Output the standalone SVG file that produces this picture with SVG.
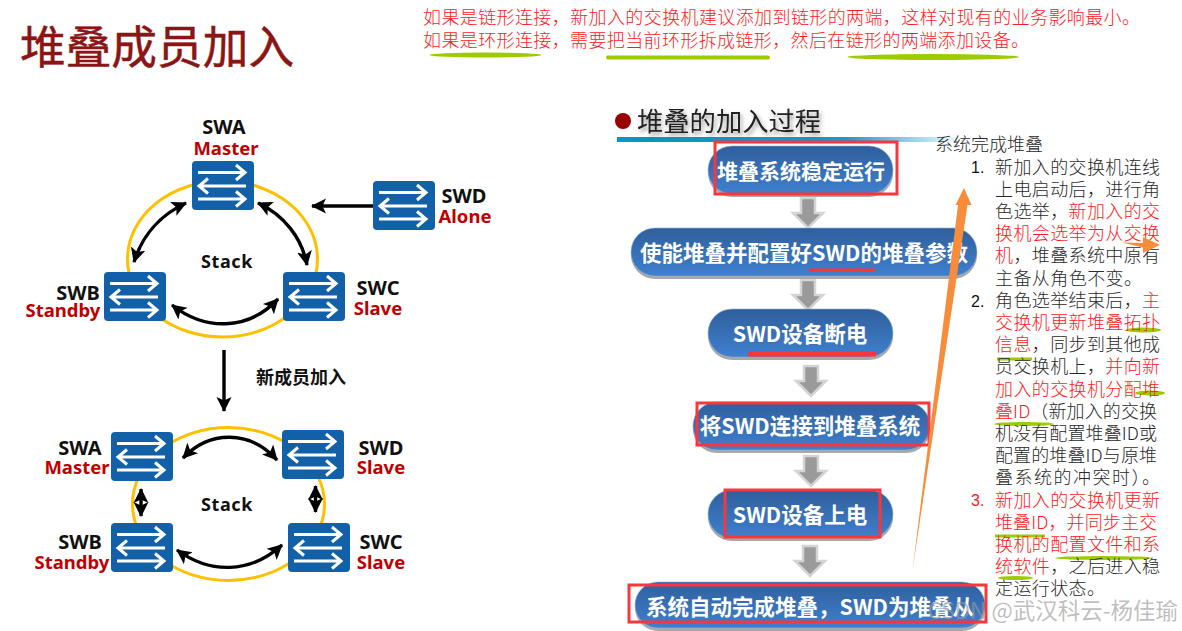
<svg xmlns="http://www.w3.org/2000/svg" xmlns:xlink="http://www.w3.org/1999/xlink" width="1182" height="631" viewBox="0 0 1182 631">
<style>
text{font-family:"Noto Sans","Noto Sans CJK SC",sans-serif}
.cjk{font-family:"Noto Sans CJK SC","Noto Sans",sans-serif}
.name{font-size:20px;font-weight:700;fill:#111;text-anchor:middle}
.stk{font-size:18px;font-weight:700;fill:#111;text-anchor:middle}
.role{font-size:18.500px;font-weight:700;fill:#C00000;text-anchor:middle}
.ring{fill:none;stroke:#FFC000;stroke-width:3}
.link{fill:none;stroke:#000;stroke-width:3.400;marker-end:url(#ah);marker-start:url(#ahs)}
.one{fill:none;stroke:#000;stroke-width:3.400;marker-end:url(#ah)}
.pill{fill:url(#pg);stroke:#8FB0DA;stroke-width:.6}
.pshadow{fill:#A8A8A8}
.ptext{font-size:21.500px;font-weight:700;fill:#fff;text-anchor:middle;font-family:"Noto Sans CJK SC","Noto Sans",sans-serif}
.box{fill:none;stroke:#F9363C;stroke-width:3}
.red{fill:#F9363C}
.grn{fill:#9CCC00}
.note{font-size:18px;fill:#FF1A1A;font-family:"Noto Sans CJK SC",sans-serif;font-weight:300}
.li{font-size:18px;fill:#2A2A2A;font-family:"Noto Sans CJK SC",sans-serif;font-weight:300}
.r{fill:#FF1A1A}
.num{font-size:16px;fill:#111;font-family:"Liberation Sans",sans-serif}
.sw path{fill:none;stroke:#fff;stroke-width:3}
.dn{fill:#9A9A9A;stroke:#D4D4D4;stroke-width:2.500}
.org{fill:#F78C3A}
</style>
<defs>
<linearGradient id="pg" x1="0" y1="0" x2="0" y2="1"><stop offset="0" stop-color="#2F5F9C"/><stop offset="1" stop-color="#3F80CE"/></linearGradient>
<linearGradient id="bar" x1="0" y1="0" x2="1" y2="0"><stop offset="0" stop-color="#0A93C4"/><stop offset=".65" stop-color="#149BC9"/><stop offset="1" stop-color="#149BC9" stop-opacity="0"/></linearGradient>
<filter id="ts" x="-10%" y="-30%" width="120%" height="170%"><feDropShadow dx="2" dy="3" stdDeviation="2" flood-color="#555" flood-opacity=".6"/></filter>
<marker id="ah" markerUnits="userSpaceOnUse" markerWidth="17" markerHeight="18" refX="14" refY="9" orient="auto"><path d="M0 1.500 L15 9 L0 16.500 L3.500 9Z" fill="#000"/></marker>
<marker id="ahs" markerUnits="userSpaceOnUse" markerWidth="17" markerHeight="18" refX="3" refY="9" orient="auto"><path d="M17 1.500 L2 9 L17 16.500 L13.500 9Z" fill="#000"/></marker>
<g id="sw" class="sw">
<rect width="62" height="49" rx="4" fill="#1160A8"/>
<path d="M6 11.500H52M44 4L53 11.500L44 19"/>
<path d="M54 25H8M16 17.500L7 25L16 32.500"/>
<path d="M6 38H52M44 30.500L53 38L44 45.500"/>
</g>
<path id="dnarrow" d="M-7 0H7V15H15L0 30L-15 15H-7Z"/>
</defs>
<rect width="1182" height="631" fill="#fff"/>

<text id="title" class="cjk" x="20" y="64" font-size="45.700" fill="#8B1414" stroke="#8B1414" stroke-width=".5">堆叠成员加入</text>

<g id="note">
<ellipse class="grn" cx="485.500" cy="55" rx="56" ry="2.500"/>
<rect class="grn" x="606" y="55.500" width="164" height="4" rx="2"/>
<ellipse class="grn" cx="933.500" cy="57" rx="86" ry="3"/>
<text class="note" x="423" y="24" textLength="717">如果是链形连接，新加入的交换机建议添加到链形的两端，这样对现有的业务影响最小。</text>
<text class="note" x="423" y="47" textLength="606">如果是环形连接，需要把当前环形拆成链形，然后在链形的两端添加设备。</text>
</g>

<g id="rings">
<ellipse class="ring" cx="222.500" cy="259" rx="95" ry="78"/>
<ellipse class="ring" cx="228.500" cy="504" rx="96" ry="76.500"/>
</g>

<g id="connectors">
<path class="link" d="M134 262C142 236 160 215 186 203"/>
<path class="link" d="M258 203C284 215 302 238 307 265"/>
<path class="link" d="M172 305C205 331 248 331 278 299"/>
<path class="one" d="M373 206H312"/>
<path class="one" d="M224 350V411"/>
<path class="link" d="M183 458C210 430 250 430 277 460"/>
<path class="link" d="M177 550C210 574 250 574 282 545"/>
<path class="link" d="M141 489V516"/>
<path class="link" d="M315.500 486V512"/>
</g>

<g id="SWA"><use href="#sw" x="192" y="161"/><text class="name" x="224" y="134">SWA</text><text class="role" x="226" y="155">Master</text></g>
<g id="SWD"><use href="#sw" x="373" y="181"/><text class="name" x="464" y="203">SWD</text><text class="role" x="465" y="223">Alone</text></g>
<g id="SWB"><use href="#sw" x="104" y="272"/><text class="name" x="78" y="300">SWB</text><text class="role" x="63" y="317">Standby</text></g>
<g id="SWC"><use href="#sw" x="283" y="272"/><text class="name" x="378" y="295">SWC</text><text class="role" x="378" y="315">Slave</text></g>
<text id="stack1" class="stk" x="227" y="268" letter-spacing=".6">Stack</text>
<text id="join" class="stk cjk" x="301" y="384" font-size="17.600">新成员加入</text>

<g id="SWA2"><use href="#sw" x="111" y="432"/><text class="name" x="80" y="455">SWA</text><text class="role" x="77" y="474">Master</text></g>
<g id="SWD2"><use href="#sw" x="282" y="430"/><text class="name" x="381" y="455">SWD</text><text class="role" x="381" y="474">Slave</text></g>
<g id="SWB2"><use href="#sw" x="111" y="523"/><text class="name" x="80" y="549">SWB</text><text class="role" x="72" y="569">Standby</text></g>
<g id="SWC2"><use href="#sw" x="288" y="523"/><text class="name" x="381" y="549">SWC</text><text class="role" x="381" y="569">Slave</text></g>
<text id="stack2" class="stk" x="227" y="511" letter-spacing=".6">Stack</text>

<g id="heading">
<circle cx="623" cy="121" r="8" fill="#990000"/>
<rect x="617" y="137" width="350" height="5" fill="url(#bar)"/>
<text class="cjk" x="637" y="131" font-size="26.300" fill="#222" filter="url(#ts)">堆叠的加入过程</text>
</g>

<g id="flow-arrows" class="dn">
<use href="#dnarrow" x="808" y="198"/>
<use href="#dnarrow" x="808" y="280"/>
<use href="#dnarrow" x="811" y="366"/>
<use href="#dnarrow" x="811" y="456"/>
<use href="#dnarrow" x="810" y="546"/>
</g>

<g id="step1"><rect class="pshadow" x="708" y="149" width="185" height="48" rx="24"/><rect class="pill" x="708" y="146" width="185" height="48" rx="24"/><text class="ptext" x="801" y="179" style="font-size:21px">堆叠系统稳定运行</text></g>
<g id="step2"><rect class="pshadow" x="631" y="231" width="346" height="48" rx="24"/><rect class="pill" x="631" y="228" width="346" height="48" rx="24"/><text class="ptext" x="804" y="261">使能堆叠并配置好SWD的堆叠参数</text></g>
<g id="step3"><rect class="pshadow" x="708" y="312" width="185" height="48" rx="24"/><rect class="pill" x="708" y="309" width="185" height="48" rx="24"/><text class="ptext" x="800" y="342">SWD设备断电</text></g>
<g id="step4"><rect class="pshadow" x="693" y="405" width="237" height="48" rx="24"/><rect class="pill" x="693" y="402" width="237" height="48" rx="24"/><text class="ptext" x="810" y="434">将SWD连接到堆叠系统</text></g>
<g id="step5"><rect class="pshadow" x="708" y="493" width="185" height="48" rx="24"/><rect class="pill" x="708" y="490" width="185" height="48" rx="24"/><text class="ptext" x="800" y="523">SWD设备上电</text></g>
<g id="step6"><rect class="pshadow" x="635" y="585" width="350" height="46" rx="23"/><rect class="pill" x="635" y="582" width="350" height="46" rx="23"/><text class="ptext" x="810" y="615">系统自动完成堆叠，SWD为堆叠从</text></g>

<g id="highlights">
<rect class="box" x="715" y="142" width="182" height="52"/>
<rect class="box" x="697" y="403" width="232" height="42"/>
<rect class="box" x="725" y="490" width="155" height="47"/>
<rect class="box" x="629" y="585" width="357" height="37"/>
<rect class="red" x="809" y="268.500" width="66" height="3.500"/>
<rect class="red" x="748" y="352" width="128" height="4.500"/>
</g>

<g id="list-marks">
<ellipse class="grn" cx="1143.500" cy="330" rx="17.500" ry="2.500"/>
<rect class="grn" x="997" y="357.500" width="35" height="3"/>
<ellipse class="grn" cx="1150" cy="393" rx="15" ry="2.500"/>
<ellipse class="grn" cx="1024" cy="424" rx="30" ry="2"/>
<rect class="grn" x="995" y="534.500" width="50" height="3"/>
<ellipse class="grn" cx="1103.500" cy="558" rx="48.500" ry="2"/>
<ellipse class="grn" cx="1015.500" cy="578" rx="17.500" ry="2"/>
</g>

<g id="list">
<text class="li" x="935" y="151">系统完成堆叠</text>
<text class="num" x="971" y="173">1.</text>
<text class="num" x="971" y="307">2.</text>
<text class="num" x="971" y="506" style="fill:#FF1A1A">3.</text>
<text class="li" x="995" y="173.500" textLength="165">新加入的交换机连线</text>
<text class="li" x="995" y="195.700" textLength="165">上电启动后，进行角</text>
<text class="li" x="995" y="217.900" textLength="165">色选举，<tspan class="r">新加入的交</tspan></text>
<text class="li" x="995" y="240.100" textLength="165"><tspan class="r">换机会选举为从交换</tspan></text>
<text class="li" x="995" y="262.300" textLength="165"><tspan class="r">机</tspan>，堆叠系统中原有</text>
<text class="li" x="995" y="284.500" textLength="147">主备从角色不变。</text>
<text class="li" x="995" y="306.700" textLength="165">角色选举结束后，<tspan class="r">主</tspan></text>
<text class="li" x="995" y="328.900" textLength="165"><tspan class="r">交换机更新堆叠拓扑</tspan></text>
<text class="li" x="995" y="351.100" textLength="165"><tspan class="r">信息</tspan>，同步到其他成</text>
<text class="li" x="995" y="373.300" textLength="165">员交换机上，<tspan class="r">并向新</tspan></text>
<text class="li" x="995" y="395.500" textLength="165"><tspan class="r">加入的交换机分配堆</tspan></text>
<text class="li" x="995" y="417.700" textLength="162"><tspan class="r">叠ID</tspan>（新加入的交换</text>
<text class="li" x="995" y="439.900" textLength="162">机没有配置堆叠ID或</text>
<text class="li" x="995" y="462.100" textLength="162">配置的堆叠ID与原堆</text>
<text class="li" x="995" y="484.300" textLength="165">叠系统的冲突时）。</text>
<text class="li" x="995" y="506.500" textLength="165"><tspan class="r">新加入的交换机更新</tspan></text>
<text class="li" x="995" y="528.700" textLength="162"><tspan class="r">堆叠ID，并同步主交</tspan></text>
<text class="li" x="995" y="550.900" textLength="165"><tspan class="r">换机的配置文件和系</tspan></text>
<text class="li" x="995" y="573.100" textLength="165"><tspan class="r">统软件</tspan>，之后进入稳</text>
<text class="li" x="995" y="595.300" textLength="110">定运行状态。</text>
</g>

<g id="orange-arrows">
<path class="org" d="M912.500 570L958 205H955.500L964 188L971.500 205H967.500Z"/>
<path class="org" d="M1122 242.500L1143 243L1143 237L1160 245L1143 253L1143 247.500Z"/>
</g>

<text id="watermark" x="1178" y="619" font-size="22.500" fill="#9A9A9A" fill-opacity=".65" text-anchor="end" class="cjk">CSDN @武汉科云-杨佳瑜</text>
</svg>
